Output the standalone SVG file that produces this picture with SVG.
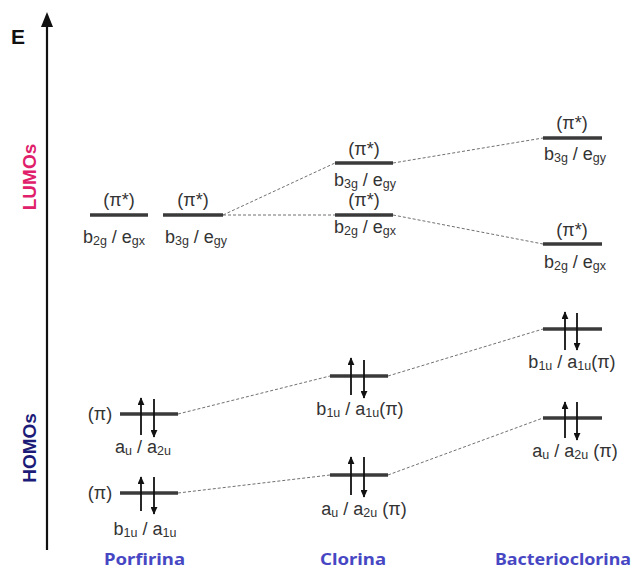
<svg xmlns="http://www.w3.org/2000/svg" width="640" height="570" viewBox="0 0 640 570">
  <style>
    .lvl { stroke: #3a3a3a; stroke-width: 3.5; }
    .link { stroke: #707070; stroke-width: 1; stroke-dasharray: 3 2; fill: none; }
    .e { stroke: #111; stroke-width: 1.8; }
    .t { font-family: "Liberation Sans", Arial, sans-serif; font-size: 18px; fill: #333; text-anchor: middle; }
    .s { font-size: 12.5px; }
    .side { font-family: "Liberation Sans", Arial, sans-serif; font-weight: bold; font-size: 19px; text-anchor: middle; }
    .mol { font-family: "Noto Sans", "Open Sans", sans-serif; font-weight: bold; font-size: 16px; fill: #4747c4; }
  </style>
  <defs>
    <marker id="ah" viewBox="0 0 10 10" refX="9" refY="5" markerWidth="8" markerHeight="7" orient="auto-start-reverse" markerUnits="userSpaceOnUse" preserveAspectRatio="none">
      <path d="M0,0 L10,5 L0,10 z" fill="#111"/>
    </marker>
  </defs>

  <rect width="640" height="570" fill="#fff"/>

  <!-- energy axis -->
  <g id="axis">
    <line x1="47" y1="24" x2="47" y2="550" stroke="#111" stroke-width="2.2"/>
    <path d="M41,27 L47,12 L53,27 z" fill="#111"/>
    <text x="11" y="44" font-family="Liberation Sans, Arial, sans-serif" font-weight="bold" font-size="21" fill="#111">E</text>
    <text class="side" transform="translate(35.5,177) rotate(-90)" fill="#e0206a">LUMOs</text>
    <text class="side" transform="translate(35.5,448) rotate(-90)" fill="#1c1c78">HOMOs</text>
  </g>

  <!-- correlation lines -->
  <g id="connectors">
    <line class="link" x1="223" y1="215" x2="335" y2="163"/>
    <line class="link" x1="223" y1="215" x2="335" y2="215"/>
    <line class="link" x1="393" y1="163" x2="543" y2="138"/>
    <line class="link" x1="393" y1="215" x2="543" y2="244"/>
    <line class="link" x1="178" y1="414" x2="330" y2="376"/>
    <line class="link" x1="178" y1="493" x2="330" y2="475"/>
    <line class="link" x1="388" y1="376" x2="543" y2="329"/>
    <line class="link" x1="388" y1="475" x2="543" y2="418"/>
  </g>

  <!-- Porfirina -->
  <g id="por-b2g">
    <line class="lvl" x1="90" y1="215" x2="148" y2="215"/>
    <text class="t" x="119" y="206">(π*)</text>
    <text class="t" x="114" y="243">b<tspan class="s" dy="2">2g</tspan><tspan dy="-2"> / e</tspan><tspan class="s" dy="2">gx</tspan></text>
  </g>
  <g id="por-b3g">
    <line class="lvl" x1="163" y1="215" x2="223" y2="215"/>
    <text class="t" x="193" y="206">(π*)</text>
    <text class="t" x="196" y="243">b<tspan class="s" dy="2">3g</tspan><tspan dy="-2"> / e</tspan><tspan class="s" dy="2">gy</tspan></text>
  </g>
  <g id="por-au">
    <text class="t" x="100" y="420">(π)</text>
    <line class="lvl" x1="120" y1="414" x2="178" y2="414"/>
    <line class="e" x1="141" y1="435" x2="141" y2="398" marker-end="url(#ah)"/>
    <line class="e" x1="154" y1="399" x2="154" y2="437" marker-end="url(#ah)"/>
    <text class="t" x="143" y="453">a<tspan class="s" dy="2">u</tspan><tspan dy="-2"> / a</tspan><tspan class="s" dy="2">2u</tspan></text>
  </g>
  <g id="por-b1u">
    <text class="t" x="100" y="499">(π)</text>
    <line class="lvl" x1="120" y1="493" x2="178" y2="493"/>
    <line class="e" x1="141" y1="511" x2="141" y2="477" marker-end="url(#ah)"/>
    <line class="e" x1="154" y1="477" x2="154" y2="514" marker-end="url(#ah)"/>
    <text class="t" x="145" y="535">b<tspan class="s" dy="2">1u</tspan><tspan dy="-2"> / a</tspan><tspan class="s" dy="2">1u</tspan></text>
  </g>

  <!-- Clorina -->
  <g id="clo-b3g">
    <line class="lvl" x1="335" y1="163" x2="393" y2="163"/>
    <text class="t" x="364" y="155">(π*)</text>
    <text class="t" x="365" y="186">b<tspan class="s" dy="2">3g</tspan><tspan dy="-2"> / e</tspan><tspan class="s" dy="2">gy</tspan></text>
  </g>
  <g id="clo-b2g">
    <line class="lvl" x1="335" y1="215" x2="393" y2="215"/>
    <text class="t" x="364" y="206">(π*)</text>
    <text class="t" x="365" y="233">b<tspan class="s" dy="2">2g</tspan><tspan dy="-2"> / e</tspan><tspan class="s" dy="2">gx</tspan></text>
  </g>
  <g id="clo-b1u">
    <line class="lvl" x1="330" y1="376" x2="388" y2="376"/>
    <line class="e" x1="351" y1="395" x2="351" y2="358" marker-end="url(#ah)"/>
    <line class="e" x1="364" y1="360" x2="364" y2="398" marker-end="url(#ah)"/>
    <text class="t" x="360" y="415">b<tspan class="s" dy="2">1u</tspan><tspan dy="-2"> / a</tspan><tspan class="s" dy="2">1u</tspan><tspan dy="-2">(π)</tspan></text>
  </g>
  <g id="clo-au">
    <line class="lvl" x1="330" y1="475" x2="388" y2="475"/>
    <line class="e" x1="351" y1="495" x2="351" y2="457" marker-end="url(#ah)"/>
    <line class="e" x1="364" y1="457" x2="364" y2="497" marker-end="url(#ah)"/>
    <text class="t" x="364" y="515">a<tspan class="s" dy="2">u</tspan><tspan dy="-2"> / a</tspan><tspan class="s" dy="2">2u</tspan><tspan dy="-2"> (π)</tspan></text>
  </g>

  <!-- Bacterioclorina -->
  <g id="bac-b3g">
    <line class="lvl" x1="543" y1="138" x2="602" y2="138"/>
    <text class="t" x="572" y="129">(π*)</text>
    <text class="t" x="575" y="160">b<tspan class="s" dy="2">3g</tspan><tspan dy="-2"> / e</tspan><tspan class="s" dy="2">gy</tspan></text>
  </g>
  <g id="bac-b2g">
    <line class="lvl" x1="543" y1="244" x2="602" y2="244"/>
    <text class="t" x="572" y="236">(π*)</text>
    <text class="t" x="575" y="268">b<tspan class="s" dy="2">2g</tspan><tspan dy="-2"> / e</tspan><tspan class="s" dy="2">gx</tspan></text>
  </g>
  <g id="bac-b1u">
    <line class="lvl" x1="543" y1="329" x2="602" y2="329"/>
    <line class="e" x1="565" y1="350" x2="565" y2="312" marker-end="url(#ah)"/>
    <line class="e" x1="577" y1="313" x2="577" y2="350" marker-end="url(#ah)"/>
    <text class="t" x="572" y="368">b<tspan class="s" dy="2">1u</tspan><tspan dy="-2"> / a</tspan><tspan class="s" dy="2">1u</tspan><tspan dy="-2">(π)</tspan></text>
  </g>
  <g id="bac-au">
    <line class="lvl" x1="543" y1="418" x2="602" y2="418"/>
    <line class="e" x1="565" y1="438" x2="565" y2="402" marker-end="url(#ah)"/>
    <line class="e" x1="577" y1="402" x2="577" y2="440" marker-end="url(#ah)"/>
    <text class="t" x="575" y="457">a<tspan class="s" dy="2">u</tspan><tspan dy="-2"> / a</tspan><tspan class="s" dy="2">2u</tspan><tspan dy="-2"> (π)</tspan></text>
  </g>

  <!-- molecule names -->
  <g id="names">
    <text class="mol" x="104" y="565" textLength="81" lengthAdjust="spacingAndGlyphs">Porfirina</text>
    <text class="mol" x="320" y="565" textLength="66" lengthAdjust="spacingAndGlyphs">Clorina</text>
    <text class="mol" x="495" y="565" textLength="136" lengthAdjust="spacingAndGlyphs">Bacterioclorina</text>
  </g>
</svg>
